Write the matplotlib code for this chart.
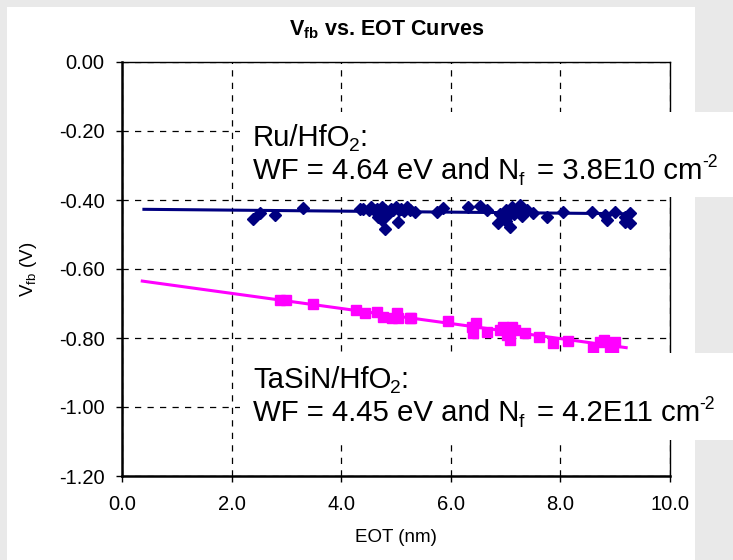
import matplotlib
matplotlib.use("Agg")
import matplotlib.pyplot as plt
from matplotlib.patches import Rectangle
from matplotlib.transforms import IdentityTransform
from matplotlib import font_manager

plt.rcParams['font.family'] = ['Liberation Sans', 'DejaVu Sans']
plt.rcParams['axes.unicode_minus'] = False
plt.rcParams['mathtext.fontset'] = 'custom'
plt.rcParams['mathtext.rm'] = 'Liberation Sans'
plt.rcParams['mathtext.bf'] = 'Liberation Sans:bold'
plt.rcParams['mathtext.default'] = 'regular'

try:
    font_manager.findfont('Liberation Sans Narrow', fallback_to_default=False)
    narrow = 'Liberation Sans Narrow'
except Exception:
    narrow = 'Liberation Sans'

# Ru/HfO2 measurements (EOT nm, Vfb V)
ru_eot = [2.39, 2.52, 2.79, 3.30, 4.35, 4.4, 4.5, 4.55, 4.6, 4.65, 4.67, 4.7, 4.75, 4.75,
          4.8, 4.8, 4.85, 4.9, 4.95, 5.0, 5.04, 5.05, 5.1, 5.15, 5.2, 5.25, 5.35, 5.75,
          5.86, 6.31, 6.53, 6.66, 6.86, 6.9, 6.95, 7.0, 7.0, 7.03, 7.05, 7.08, 7.1, 7.12,
          7.15, 7.2, 7.26, 7.3, 7.39, 7.5, 7.75, 8.05, 8.58, 8.81, 8.85, 9.0, 9.18, 9.18,
          9.27, 9.27]
ru_vfb = [-0.455, -0.438, -0.443, -0.423, -0.425, -0.425, -0.43, -0.42, -0.428, -0.425,
          -0.449, -0.435, -0.42, -0.458, -0.43, -0.484, -0.44, -0.425, -0.43, -0.42,
          -0.464, -0.428, -0.425, -0.432, -0.42, -0.43, -0.435, -0.435, -0.423, -0.42,
          -0.417, -0.429, -0.467, -0.44, -0.45, -0.43, -0.46, -0.438, -0.445, -0.478,
          -0.425, -0.42, -0.44, -0.43, -0.414, -0.445, -0.429, -0.438, -0.449, -0.435,
          -0.435, -0.443, -0.458, -0.435, -0.449, -0.464, -0.438, -0.467]
ru_fit_eot = [0.4, 9.3]
ru_fit_vfb = [-0.427, -0.440]

# TaSiN/HfO2 measurements
ta_eot = [2.88, 3.0, 3.48, 4.27, 4.43, 4.65, 4.77, 4.93, 5.02, 5.04, 5.26, 5.27, 5.95,
          6.39, 6.4, 6.46, 6.66, 6.9, 6.95, 7.02, 7.08, 7.11, 7.17, 7.35, 7.61, 7.86,
          8.13, 8.59, 8.72, 8.8, 8.9, 8.96, 8.99]
ta_vfb = [-0.69, -0.69, -0.701, -0.719, -0.728, -0.725, -0.739, -0.742, -0.728, -0.742,
          -0.743, -0.742, -0.75, -0.767, -0.785, -0.756, -0.782, -0.777, -0.767, -0.791,
          -0.806, -0.768, -0.777, -0.786, -0.797, -0.815, -0.808, -0.829, -0.811, -0.806,
          -0.826, -0.835, -0.811]
ta_fit_eot = [0.37, 9.2]
ta_fit_vfb = [-0.635, -0.828]

x_ticks = [0, 2, 4, 6, 8, 10]
y_ticks = [0.0, -0.2, -0.4, -0.6, -0.8, -1.0, -1.2]

W, H = 733, 560
fig = plt.figure(figsize=(W / 100, H / 100), dpi=100)
fig.patch.set_facecolor('#e9e9e9')
fig.add_artist(Rectangle((7 / W, 0), (695 - 7) / W, (H - 7) / H, transform=fig.transFigure,
                         facecolor='white', edgecolor='none', zorder=-10))

ax = fig.add_axes([122 / W, 84 / H, 548 / W, 414 / H])
ax.set_facecolor('white')

ax.plot(ru_fit_eot, ru_fit_vfb, color='#000080', lw=2.2, zorder=3)
ax.plot(ru_eot, ru_vfb, 'D', color='#000080', ms=6, zorder=4)
ax.plot(ta_fit_eot, ta_fit_vfb, color='#ff00ff', lw=2.2, zorder=3)
ax.plot(ta_eot, ta_vfb, 's', color='#ff00ff', ms=6.5, zorder=4)

ax.set_xlim(0, 10)
ax.set_ylim(-1.2, 0)
ax.set_xticks(x_ticks)
ax.set_xticklabels([f'{v:.1f}' for v in x_ticks])
ax.set_yticks(y_ticks)
ax.set_yticklabels([f'{v:.2f}' for v in y_ticks])
ax.grid(True, color='black', ls=(0, (5, 5)), lw=0.9)
ax.tick_params(direction='out', length=4.5, width=1, labelsize=14.5)
ax.tick_params(axis='x', pad=9)
ax.tick_params(axis='y', pad=8)
for s in ['left', 'bottom']:
    ax.spines[s].set_linewidth(1.8)
for s in ['top', 'right']:
    ax.spines[s].set_linewidth(1.0)

ax.set_xlabel('EOT (nm)', fontsize=13.5, labelpad=11)
ax.set_ylabel('V$_{fb}$ (V)', fontsize=13.5, labelpad=14)
fig.text(387 / W, 1 - 30 / H, 'V$_{fb}$ vs. EOT Curves', ha='center', va='center',
         fontsize=15.5, fontweight='bold', family=[narrow, 'DejaVu Sans'])

# white label boxes laid over the plot
for y0, y1 in [(112, 197), (353, 440)]:
    fig.add_artist(Rectangle((240 / W, 1 - y1 / H), (W - 240) / W, (y1 - y0) / H,
                             transform=fig.transFigure, facecolor='white',
                             edgecolor='none', zorder=5))

renderer = fig.canvas.get_renderer()


def rich_line(x, y, runs, size):
    # runs: (text, size factor, baseline shift in em, gap before in em)
    px = size * 100 / 72
    for txt, k, dy, gap in runs:
        x += gap * px
        t = fig.text(x, H - y + dy * px, txt, fontsize=size * k, va='baseline',
                     transform=IdentityTransform(), zorder=6)
        x += t.get_window_extent(renderer).width


fs = 21.2
rich_line(253, 146, [('Ru/HfO', 1, 0, 0), ('2', 0.65, -0.17, -0.04), (':', 1, 0, -0.02)], fs)
rich_line(253, 179, [('WF = 4.64 eV and N', 1, 0, 0), ('f', 0.65, -0.22, -0.03),
                     ('= 3.8E10 cm', 1, 0, 0.45), ('-2', 0.6, 0.42, -0.02)], fs)
rich_line(253, 388, [('TaSiN/HfO', 1, 0, 0), ('2', 0.65, -0.17, -0.04), (':', 1, 0, -0.02)], fs)
rich_line(253, 421, [('WF = 4.45 eV and N', 1, 0, 0), ('f', 0.65, -0.22, -0.03),
                     ('= 4.2E11 cm', 1, 0, 0.45), ('-2', 0.6, 0.42, -0.02)], fs)

fig.savefig('out.png', dpi=100, facecolor=fig.get_facecolor())
